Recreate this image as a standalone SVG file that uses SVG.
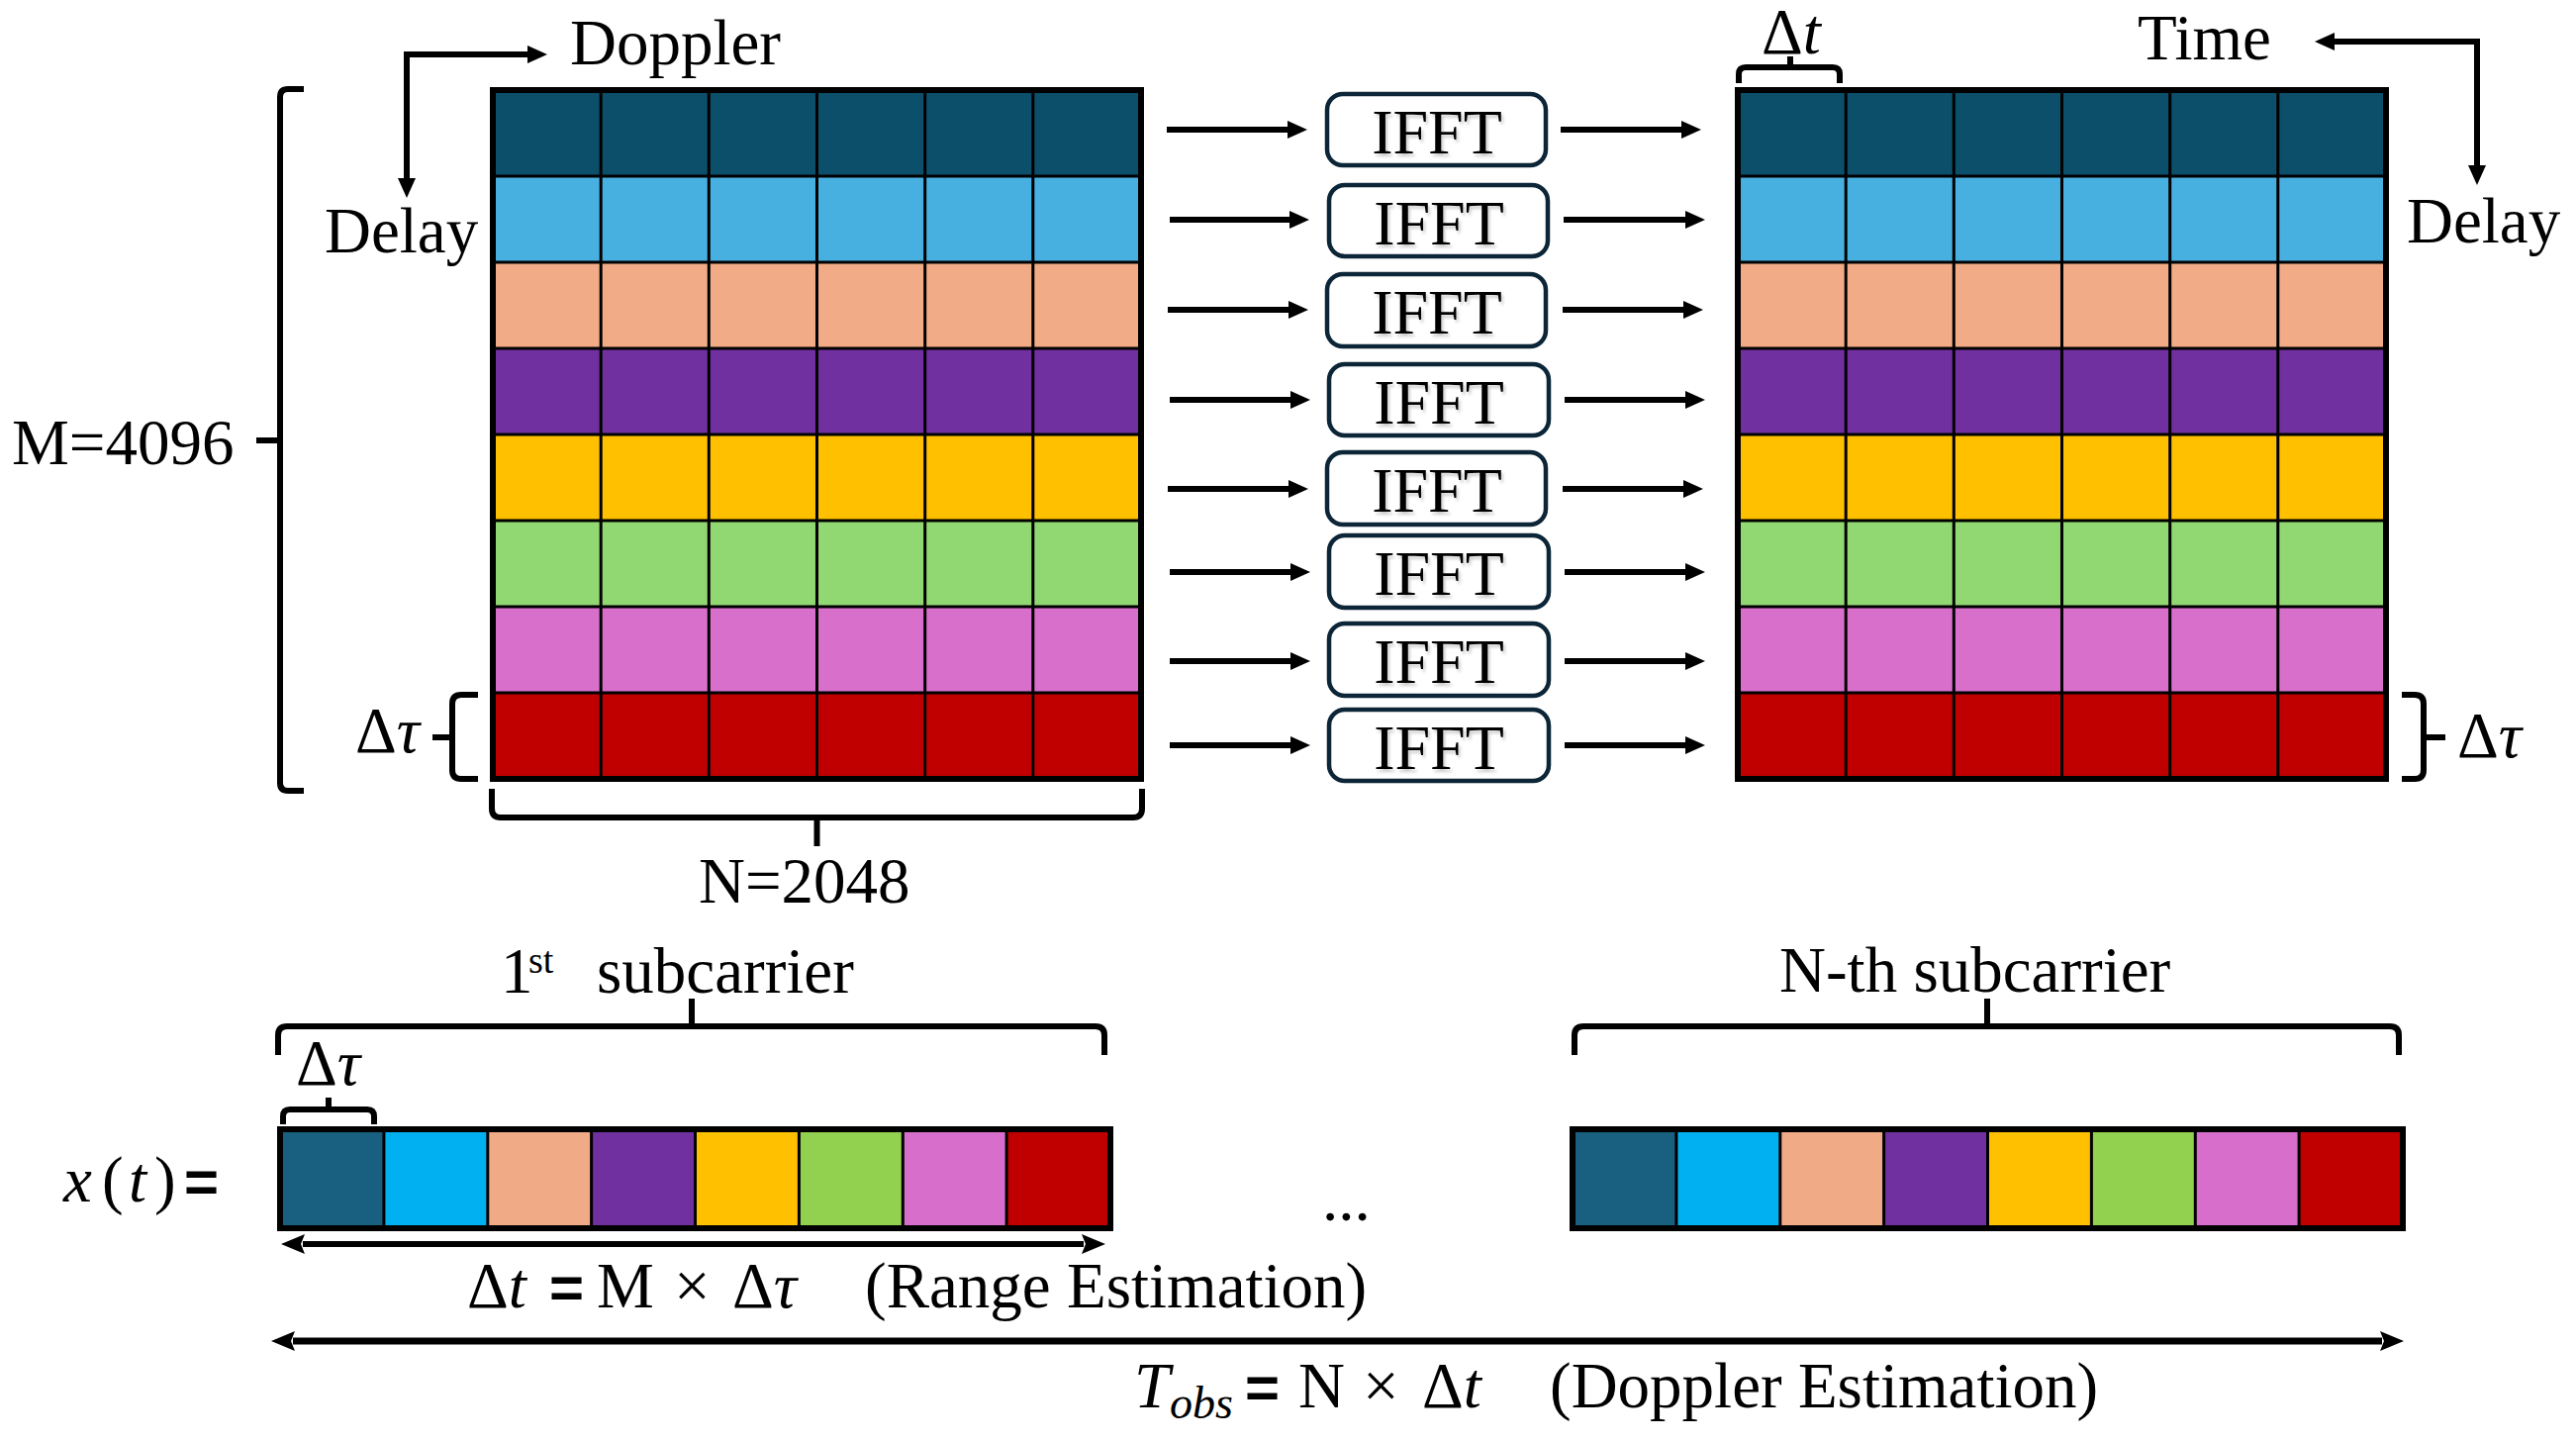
<svg xmlns="http://www.w3.org/2000/svg" width="2603" height="1457" viewBox="0 0 2603 1457">
<style>
.t{font-family:"Liberation Serif","Times New Roman",serif;font-size:65px;fill:#000}
.i{font-style:italic}
.eq{font-family:"Liberation Sans",Arial,sans-serif;font-weight:bold;font-size:60px}
.br{fill:none;stroke:#000;stroke-width:6;stroke-linejoin:round}
.grid{stroke:#000;stroke-width:3}
.outer{fill:none;stroke:#000;stroke-width:6}
.box{fill:#fff;stroke:#0c2638;stroke-width:4.5}
.ifft{font-family:"Liberation Serif","Times New Roman",serif;font-size:64px;text-anchor:middle;fill:#000}
.arr{fill:none;stroke:#000;stroke-width:6}
.c1{fill:#0b4f6b}.c2{fill:#48b0e0}.c3{fill:#f1ab86}.c4{fill:#7030a0}.c5{fill:#ffc000}.c6{fill:#92d872}.c7{fill:#d86fca}.c8{fill:#c00000}
.s1{fill:#185f80}.s2{fill:#00b0f0}.s3{fill:#f0aa86}.s4{fill:#7030a0}.s5{fill:#ffc000}.s6{fill:#92d050}.s7{fill:#d86ecc}.s8{fill:#c00000}
</style>
<defs>
<marker id="ah" viewBox="0 0 20 18" refX="2" refY="9" markerWidth="20" markerHeight="18" markerUnits="userSpaceOnUse" orient="auto-start-reverse">
<path d="M0,0 L20,9 L0,18 z" fill="#000"/>
</marker>
<marker id="ah2" viewBox="0 0 24 20" refX="2" refY="10" markerWidth="24" markerHeight="20" markerUnits="userSpaceOnUse" orient="auto-start-reverse">
<path d="M0,0 L24,10 L0,20 L4,10 z" fill="#000"/>
</marker>
<filter id="sh" x="-10%" y="-10%" width="130%" height="140%">
<feDropShadow dx="2" dy="3" stdDeviation="1.5" flood-color="#000" flood-opacity="0.2"/>
</filter>
</defs>

<!-- Left matrix -->
<g id="left-matrix">
<rect class="c1" x="498" y="91" width="655" height="87"/>
<rect class="c2" x="498" y="178" width="655" height="87"/>
<rect class="c3" x="498" y="265" width="655" height="87"/>
<rect class="c4" x="498" y="352" width="655" height="87"/>
<rect class="c5" x="498" y="439" width="655" height="87"/>
<rect class="c6" x="498" y="526" width="655" height="87"/>
<rect class="c7" x="498" y="613" width="655" height="87"/>
<rect class="c8" x="498" y="700" width="655" height="87"/>
<g class="grid">
<line x1="498" y1="178" x2="1153" y2="178"/><line x1="498" y1="265" x2="1153" y2="265"/><line x1="498" y1="352" x2="1153" y2="352"/><line x1="498" y1="439" x2="1153" y2="439"/><line x1="498" y1="526" x2="1153" y2="526"/><line x1="498" y1="613" x2="1153" y2="613"/><line x1="498" y1="700" x2="1153" y2="700"/>
<line x1="607.2" y1="91" x2="607.2" y2="787"/><line x1="716.3" y1="91" x2="716.3" y2="787"/><line x1="825.5" y1="91" x2="825.5" y2="787"/><line x1="934.7" y1="91" x2="934.7" y2="787"/><line x1="1043.8" y1="91" x2="1043.8" y2="787"/>
</g>
<rect class="outer" x="498" y="91" width="655" height="696"/>
</g>

<!-- Right matrix -->
<g id="right-matrix">
<rect class="c1" x="1756" y="91" width="655" height="87"/>
<rect class="c2" x="1756" y="178" width="655" height="87"/>
<rect class="c3" x="1756" y="265" width="655" height="87"/>
<rect class="c4" x="1756" y="352" width="655" height="87"/>
<rect class="c5" x="1756" y="439" width="655" height="87"/>
<rect class="c6" x="1756" y="526" width="655" height="87"/>
<rect class="c7" x="1756" y="613" width="655" height="87"/>
<rect class="c8" x="1756" y="700" width="655" height="87"/>
<g class="grid">
<line x1="1756" y1="178" x2="2411" y2="178"/><line x1="1756" y1="265" x2="2411" y2="265"/><line x1="1756" y1="352" x2="2411" y2="352"/><line x1="1756" y1="439" x2="2411" y2="439"/><line x1="1756" y1="526" x2="2411" y2="526"/><line x1="1756" y1="613" x2="2411" y2="613"/><line x1="1756" y1="700" x2="2411" y2="700"/>
<line x1="1865.2" y1="91" x2="1865.2" y2="787"/><line x1="1974.3" y1="91" x2="1974.3" y2="787"/><line x1="2083.5" y1="91" x2="2083.5" y2="787"/><line x1="2192.7" y1="91" x2="2192.7" y2="787"/><line x1="2301.8" y1="91" x2="2301.8" y2="787"/>
</g>
<rect class="outer" x="1756" y="91" width="655" height="696"/>
</g>

<!-- IFFT boxes -->
<g id="ifft-1"><rect class="box" x="1341" y="95" width="221" height="72" rx="16"/><text class="ifft" x="1452" y="155" filter="url(#sh)">IFFT</text></g>
<g id="ifft-2"><rect class="box" x="1343" y="187" width="221" height="72" rx="16"/><text class="ifft" x="1454" y="247" filter="url(#sh)">IFFT</text></g>
<g id="ifft-3"><rect class="box" x="1341" y="277" width="221" height="73" rx="16"/><text class="ifft" x="1452" y="337" filter="url(#sh)">IFFT</text></g>
<g id="ifft-4"><rect class="box" x="1343" y="368" width="222" height="72" rx="16"/><text class="ifft" x="1454" y="428" filter="url(#sh)">IFFT</text></g>
<g id="ifft-5"><rect class="box" x="1341" y="457" width="221" height="73" rx="16"/><text class="ifft" x="1452" y="517" filter="url(#sh)">IFFT</text></g>
<g id="ifft-6"><rect class="box" x="1343" y="541" width="222" height="73" rx="16"/><text class="ifft" x="1454" y="601" filter="url(#sh)">IFFT</text></g>
<g id="ifft-7"><rect class="box" x="1343" y="630" width="222" height="73" rx="16"/><text class="ifft" x="1454" y="690" filter="url(#sh)">IFFT</text></g>
<g id="ifft-8"><rect class="box" x="1343" y="717" width="222" height="72" rx="16"/><text class="ifft" x="1454" y="777" filter="url(#sh)">IFFT</text></g>

<!-- Connectors -->
<g id="connectors" class="arr">
<path d="M1179,131 H1303" marker-end="url(#ah)"/>
<path d="M1182,222 H1305" marker-end="url(#ah)"/>
<path d="M1180,313 H1304" marker-end="url(#ah)"/>
<path d="M1182,404 H1306" marker-end="url(#ah)"/>
<path d="M1180,494 H1304" marker-end="url(#ah)"/>
<path d="M1182,578 H1306" marker-end="url(#ah)"/>
<path d="M1182,668 H1306" marker-end="url(#ah)"/>
<path d="M1182,753 H1306" marker-end="url(#ah)"/>
<path d="M1577,131 H1701" marker-end="url(#ah)"/>
<path d="M1580,222 H1705" marker-end="url(#ah)"/>
<path d="M1579,313 H1703" marker-end="url(#ah)"/>
<path d="M1581,404 H1705" marker-end="url(#ah)"/>
<path d="M1579,494 H1703" marker-end="url(#ah)"/>
<path d="M1581,578 H1705" marker-end="url(#ah)"/>
<path d="M1581,668 H1705" marker-end="url(#ah)"/>
<path d="M1581,753 H1705" marker-end="url(#ah)"/>
</g>

<!-- Axis arrows -->
<g id="axes" class="arr" stroke-linejoin="miter">
<path d="M535,55 H411 V182" marker-start="url(#ah)" marker-end="url(#ah)"/>
<path d="M2357,42 H2503 V169" marker-start="url(#ah)" marker-end="url(#ah)"/>
</g>

<!-- Labels top -->
<g id="labels-top">
<text class="t" x="576" y="65">Doppler</text>
<text class="t" x="328" y="255">Delay</text>
<text class="t" x="1780" y="54" font-size="60">Δ<tspan class="i">t</tspan></text>
<text class="t" x="2160" y="60">Time</text>
<text class="t" x="2432" y="245">Delay</text>
<text class="t" x="12" y="469">M=4096</text>
<text class="t" x="359" y="760">Δ<tspan class="i">τ</tspan></text>
<text class="t" x="2483" y="765">Δ<tspan class="i">τ</tspan></text>
<text class="t" x="706" y="912">N=2048</text>
</g>

<!-- Braces -->
<g id="braces" class="br">
<path d="M307,90 H291 Q283,90 283,98 V791 Q283,799 291,799 H307"/>
<path d="M259,445 H283"/>
<path d="M483,702 H466 Q457,702 457,711 V778 Q457,787 466,787 H483"/>
<path d="M437,745 H457"/>
<path d="M2427,702 H2440 Q2449,702 2449,711 V778 Q2449,787 2440,787 H2427"/>
<path d="M2449,745 H2471"/>
<path d="M497,797 V817 Q497,826 506,826 H1145 Q1154,826 1154,817 V797"/>
<path d="M825.5,826 V855"/>
<path d="M1757,84 V75 Q1757,68 1764,68 H1852 Q1859,68 1859,75 V84"/>
<path d="M1809,68 V57"/>
<path d="M281,1066 V1046 Q281,1037 290,1037 H1107 Q1116,1037 1116,1046 V1066"/>
<path d="M699,1037 V1009"/>
<path d="M1591,1066 V1046 Q1591,1037 1600,1037 H2415 Q2424,1037 2424,1046 V1066"/>
<path d="M2008,1037 V1009"/>
<path d="M286,1136 V1128 Q286,1121 293,1121 H371 Q378,1121 378,1128 V1136"/>
<path d="M332,1121 V1109"/>
</g>

<!-- Strip 1 -->
<g id="strip-1">
<rect class="s1" x="283" y="1141" width="105" height="100"/>
<rect class="s2" x="388" y="1141" width="105" height="100"/>
<rect class="s3" x="493" y="1141" width="105" height="100"/>
<rect class="s4" x="598" y="1141" width="105" height="100"/>
<rect class="s5" x="703" y="1141" width="104" height="100"/>
<rect class="s6" x="807" y="1141" width="105" height="100"/>
<rect class="s7" x="912" y="1141" width="105" height="100"/>
<rect class="s8" x="1017" y="1141" width="105" height="100"/>
<g class="grid">
<line x1="387.9" y1="1141" x2="387.9" y2="1241"/><line x1="492.8" y1="1141" x2="492.8" y2="1241"/><line x1="597.6" y1="1141" x2="597.6" y2="1241"/><line x1="702.5" y1="1141" x2="702.5" y2="1241"/><line x1="807.4" y1="1141" x2="807.4" y2="1241"/><line x1="912.3" y1="1141" x2="912.3" y2="1241"/><line x1="1017.1" y1="1141" x2="1017.1" y2="1241"/>
</g>
<rect class="outer" x="283" y="1141" width="839" height="100"/>
</g>

<!-- Strip N -->
<g id="strip-n">
<rect class="s1" x="1589" y="1141" width="105" height="100"/>
<rect class="s2" x="1694" y="1141" width="105" height="100"/>
<rect class="s3" x="1799" y="1141" width="105" height="100"/>
<rect class="s4" x="1904" y="1141" width="105" height="100"/>
<rect class="s5" x="2009" y="1141" width="104" height="100"/>
<rect class="s6" x="2113" y="1141" width="105" height="100"/>
<rect class="s7" x="2218" y="1141" width="105" height="100"/>
<rect class="s8" x="2323" y="1141" width="105" height="100"/>
<g class="grid">
<line x1="1693.9" y1="1141" x2="1693.9" y2="1241"/><line x1="1798.8" y1="1141" x2="1798.8" y2="1241"/><line x1="1903.6" y1="1141" x2="1903.6" y2="1241"/><line x1="2008.5" y1="1141" x2="2008.5" y2="1241"/><line x1="2113.4" y1="1141" x2="2113.4" y2="1241"/><line x1="2218.3" y1="1141" x2="2218.3" y2="1241"/><line x1="2323.1" y1="1141" x2="2323.1" y2="1241"/>
</g>
<rect class="outer" x="1589" y="1141" width="839" height="100"/>
</g>

<!-- Bottom labels -->
<g id="labels-bottom">
<text class="t" x="506" y="1003">1<tspan x="534" y="983" font-size="38">st</tspan><tspan x="603" y="1003">subcarrier</tspan></text>
<text class="t" x="1798" y="1002">N-th subcarrier</text>
<text class="t" x="299" y="1096">Δ<tspan class="i">τ</tspan></text>
<text class="t" y="1214" font-size="62"><tspan class="i" x="64">x</tspan><tspan x="103">(</tspan><tspan class="i" x="130">t</tspan><tspan x="156">)</tspan></text>
<text class="eq" x="186" y="1214">=</text>
<text class="t" x="1336" y="1233">...</text>
<text class="t" y="1321"><tspan x="472">Δ</tspan><tspan class="i">t</tspan></text>
<text class="eq" x="555" y="1321">=</text>
<text class="t" y="1321"><tspan x="603">M</tspan><tspan x="681">×</tspan><tspan x="740">Δ</tspan><tspan class="i">τ</tspan><tspan x="874">(Range Estimation)</tspan></text>
<text class="t" y="1422"><tspan class="i" x="1146">T</tspan><tspan class="i" x="1182" y="1433" font-size="46">obs</tspan></text>
<text class="eq" x="1258" y="1422">=</text>
<text class="t" y="1422"><tspan x="1312">N</tspan><tspan x="1377">×</tspan><tspan x="1437">Δ</tspan><tspan class="i">t</tspan><tspan x="1566">(Doppler Estimation)</tspan></text>
</g>

<!-- Span arrows -->
<g id="span-arrows" class="arr">
<path d="M306,1257 H1095" marker-start="url(#ah2)" marker-end="url(#ah2)"/>
<path d="M296,1355 H2407" stroke-width="7" marker-start="url(#ah2)" marker-end="url(#ah2)"/>
</g>
</svg>
